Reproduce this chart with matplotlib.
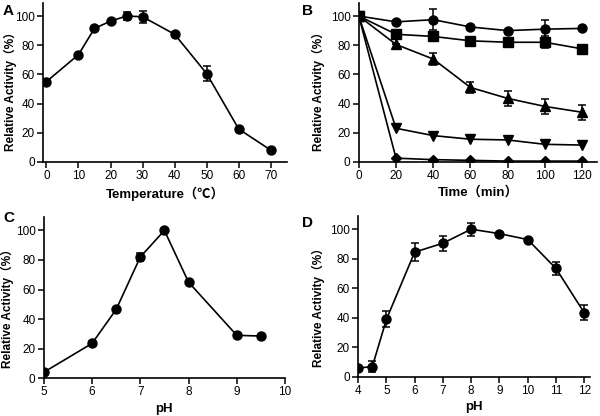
import matplotlib
matplotlib.use('Agg')
import matplotlib.pyplot as plt

plt.rcParams['font.family'] = ['Liberation Sans', 'Noto Sans CJK SC', 'DejaVu Sans']

# ─── Data ─────────────────────────────────────────────────────
temp = [0, 10, 15, 20, 25, 30, 40, 50, 60, 70]
temp_act = [55, 73.5, 91.5, 96.5, 100, 99.5, 87.5, 60.5, 22.5, 8]
temp_err = [0, 0, 0, 0, 2.5, 4, 0, 5, 0, 0]

time_min = [0, 20, 40, 60, 80, 100, 120]
stab_circle = [100, 96, 97.5, 92.5, 90, 91, 91.5]
stab_circle_err = [0, 0, 7, 0, 0, 6, 0]
stab_square = [100, 87.5, 86, 83, 82, 82, 77.5]
stab_square_err = [0, 0, 3, 0, 0, 4, 0]
stab_up = [100, 80.5, 70.5, 51, 43.5, 38, 34]
stab_up_err = [0, 0, 4, 4, 5, 5, 5]
stab_down = [100, 23, 18, 15.5, 15, 12, 11.5]
stab_diamond = [100, 2.5, 1.5, 1, 0.5, 0.5, 0.5]

ph_c = [5, 6, 6.5, 7, 7.5, 8, 9, 9.5]
ph_c_act = [4, 23.5, 46.5, 82, 100, 65, 29, 28.5]
ph_c_err = [0, 0, 0, 3, 0, 0, 0, 0]

ph_d = [4, 4.5, 5, 6, 7, 8, 9, 10, 11, 12]
ph_d_act = [6, 7, 39, 84.5, 90.5, 100, 97, 93, 73.5, 43.5]
ph_d_err = [0, 4, 5.5, 6, 5, 4.5, 0, 0, 4.5, 5]

YLABEL = 'Relative Activity（%）'
YLABEL_FONT = ['Liberation Sans Narrow', 'Liberation Sans',
               'Noto Sans CJK SC', 'DejaVu Sans']

fig = plt.figure(figsize=(6, 4.16), dpi=100)
axA = fig.add_axes([0.072, 0.611, 0.406, 0.382])
axB = fig.add_axes([0.598, 0.611, 0.397, 0.382])
axC = fig.add_axes([0.073, 0.091, 0.402, 0.387])
axD = fig.add_axes([0.597, 0.094, 0.386, 0.387])

style = dict(color='black', lw=1.2, ms=6.5, capsize=3, elinewidth=1.1,
             capthick=1.1)


def setup(ax, xlabel, xlim, xticks, label_x, label_y):
    ax.set_ylim(0, 109)
    ax.set_yticks(range(0, 101, 20))
    ax.set_xlim(*xlim)
    ax.set_xticks(xticks)
    ax.spines['top'].set_visible(False)
    ax.spines['right'].set_visible(False)
    ax.spines['left'].set_linewidth(1.2)
    ax.spines['bottom'].set_linewidth(1.2)
    ax.tick_params(direction='out', length=4, width=1.1, labelsize=8.5,
                   pad=2)
    ax.set_xlabel(xlabel, fontsize=9.5, fontweight='bold', labelpad=3)
    ax.set_ylabel(YLABEL, fontsize=8.5, fontweight='bold', family=YLABEL_FONT)
    ax.yaxis.set_label_coords(label_x, label_y)


# A: temperature
axA.errorbar(temp, temp_act, yerr=temp_err, fmt='-o', **style)
setup(axA, 'Temperature（℃）', (-1, 75), range(0, 71, 10), -0.107, 0.46)

# B: stability over time
axB.errorbar(time_min, stab_circle, yerr=stab_circle_err, fmt='-o', **style)
axB.errorbar(time_min, stab_square, yerr=stab_square_err, fmt='-s', **style)
axB.errorbar(time_min, stab_up, yerr=stab_up_err, fmt='-^', **style)
axB.errorbar(time_min, stab_down, fmt='-v', **style)
axB.errorbar(time_min, stab_diamond, fmt='-D', **dict(style, ms=5.5))
setup(axB, 'Time（min）', (0, 128), range(0, 121, 20), -0.143, 0.46)

# C: pH optimum
axC.errorbar(ph_c, ph_c_act, yerr=ph_c_err, fmt='-o', **style)
setup(axC, 'pH', (5, 10), range(5, 11), -0.125, 0.45)

# D: pH stability
axD.errorbar(ph_d, ph_d_act, yerr=ph_d_err, fmt='-o', **style)
setup(axD, 'pH', (4, 12.2), range(4, 13), -0.145, 0.45)

# panel letters
for letter, x, y in [('A', 3, 4), ('B', 302, 4), ('C', 3, 211), ('D', 302, 216)]:
    fig.text(x / 600, 1 - y / 416, letter, fontsize=11, fontweight='bold',
             ha='left', va='top')

plt.savefig('out.png', dpi=100)
plt.close()
